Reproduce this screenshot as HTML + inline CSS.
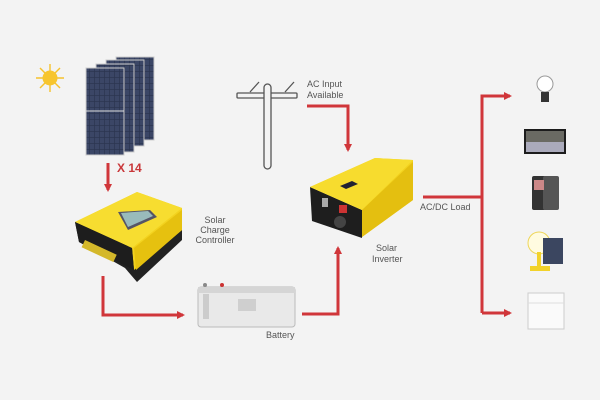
<!DOCTYPE html>
<html><head><style>
html,body{margin:0;padding:0;background:#f3f3f3;}
svg{display:block;}
text{font-family:"Liberation Sans",sans-serif;fill:#555;font-size:9px;}
</style></head><body>
<svg width="600" height="400" viewBox="0 0 600 400">
<rect width="600" height="400" fill="#f3f3f3"/>
<defs>
<marker id="ah" markerWidth="8" markerHeight="8" refX="6" refY="4" orient="auto" markerUnits="userSpaceOnUse">
<path d="M0,0 L8,4 L0,8 Z" fill="#d0363a"/>
</marker>
<pattern id="cells" width="5" height="6" patternUnits="userSpaceOnUse">
<rect width="5" height="6" fill="#2b3550"/><rect width="4.3" height="5.3" fill="#3b4666"/>
</pattern>
</defs>
<!-- sun -->
<g stroke="#f6c22c" stroke-width="1.4">
<line x1="50" y1="64" x2="50" y2="92"/><line x1="36" y1="78" x2="64" y2="78"/>
<line x1="40" y1="68" x2="60" y2="88"/><line x1="60" y1="68" x2="40" y2="88"/>
</g>
<circle cx="50" cy="78" r="7.5" fill="#f7c52e"/>
<!-- panels -->
<g stroke="#ccc" stroke-width="1">
<rect x="116" y="57" width="38" height="83" fill="url(#cells)"/>
<rect x="106" y="60" width="38" height="86" fill="url(#cells)"/>
<rect x="96" y="64" width="38" height="88" fill="url(#cells)"/>
<rect x="86" y="68" width="38" height="87" fill="url(#cells)"/>
</g>
<line x1="86" y1="111" x2="124" y2="111" stroke="#ddd"/>
<text x="117" y="172" style="font-size:12px;font-weight:bold;fill:#c9373a">X 14</text>
<!-- arrows -->
<g stroke="#d0363a" stroke-width="3" fill="none">
<path d="M108,163 V190" marker-end="url(#ah)"/>
<path d="M103,276 V315 H183" marker-end="url(#ah)"/>
<path d="M302,314 H338 V248" marker-end="url(#ah)"/>
<path d="M307,106 H348 V150" marker-end="url(#ah)"/>
<path d="M423,197 H482"/>
<path d="M482,313 V96 H510" marker-end="url(#ah)"/>
<path d="M482,313 H510" marker-end="url(#ah)"/>
</g>
<!-- charge controller -->
<polygon points="75,222 79,242 125,268 137,282 182,240 182,208" fill="#222"/>
<polygon points="137,192 182,208 182,230 134,270 132,248 75,222" fill="#f3d21e"/>
<polygon points="137,192 182,208 132,248 75,222" fill="#f7dd30"/>
<polygon points="75,222 132,248 134,270 79,242" fill="#1d1d1d"/>
<polygon points="134,248 182,210 182,230 136,270" fill="#e6c10f"/>
<polygon points="118,212 150,210 157,217 128,230" fill="#556"/>
<polygon points="121,213 148,211 153,216 128,227" fill="#9bb"/>
<rect x="85" y="240" width="35" height="8" fill="#d4b82a" transform="rotate(25 85 240)"/>
<text x="215" y="223" text-anchor="middle">Solar</text>
<text x="215" y="233" text-anchor="middle">Charge</text>
<text x="215" y="243" text-anchor="middle">Controller</text>
<!-- battery -->
<rect x="198" y="287" width="97" height="40" rx="3" fill="#e9e9e9" stroke="#bbb"/>
<rect x="198" y="287" width="97" height="6" fill="#d5d5d5"/>
<rect x="203" y="294" width="6" height="25" fill="#ccc"/>
<rect x="238" y="299" width="18" height="12" fill="#cfcfcf"/>
<circle cx="205" cy="285" r="2" fill="#888"/><circle cx="222" cy="285" r="2" fill="#c33"/>
<text x="266" y="338">Battery</text>
<!-- pole -->
<g stroke="#555" stroke-width="1.3" fill="#f3f3f3">
<rect x="237" y="93" width="60" height="5" rx="1"/>
<rect x="264" y="84" width="7" height="85" rx="3.5"/>
<line x1="250" y1="92" x2="259" y2="82"/><line x1="285" y1="92" x2="294" y2="82"/>
</g>
<text x="307" y="87">AC Input</text>
<text x="307" y="98">Available</text>
<!-- inverter -->
<polygon points="310,187 362,210 362,238 312,221" fill="#1e1e1e"/>
<polygon points="310,187 375,158 413,160 413,200 362,237 362,210" fill="#f3d21e"/>
<polygon points="310,187 375,158 413,160 362,210" fill="#f7dc2e"/>
<polygon points="362,210 413,162 413,200 362,237" fill="#e4bf10"/>
<polygon points="340,186 352,181 358,184 346,189" fill="#223"/>
<rect x="339" y="205" width="8" height="8" fill="#c33"/>
<circle cx="340" cy="222" r="6" fill="#444"/>
<rect x="322" y="198" width="6" height="9" fill="#aaa"/>
<text x="376" y="251">Solar</text>
<text x="372" y="262">Inverter</text>
<text x="420" y="210">AC/DC Load</text>
<!-- loads -->
<circle cx="545" cy="84" r="8" fill="#fff" stroke="#999"/>
<rect x="541" y="92" width="8" height="10" fill="#333"/>
<rect x="524" y="129" width="42" height="25" fill="#1c1c1c"/>
<rect x="526" y="131" width="38" height="21" fill="#6a6a63"/>
<rect x="526" y="142" width="38" height="10" fill="#aab"/>
<rect x="532" y="176" width="14" height="34" rx="2" fill="#333"/>
<rect x="543" y="176" width="16" height="34" rx="2" fill="#555"/>
<rect x="534" y="180" width="10" height="10" fill="#c88"/>
<circle cx="539" cy="243" r="11" fill="#fffbe0" stroke="#eed65a"/>
<rect x="537" y="252" width="4" height="16" fill="#f2d22a"/>
<rect x="530" y="266" width="20" height="5" fill="#f2d22a"/>
<rect x="543" y="238" width="20" height="26" fill="#3b4660"/>
<rect x="528" y="293" width="36" height="36" fill="#fafafa" stroke="#ccc"/>
<line x1="528" y1="303" x2="564" y2="303" stroke="#ddd"/>
</svg>
</body></html>
